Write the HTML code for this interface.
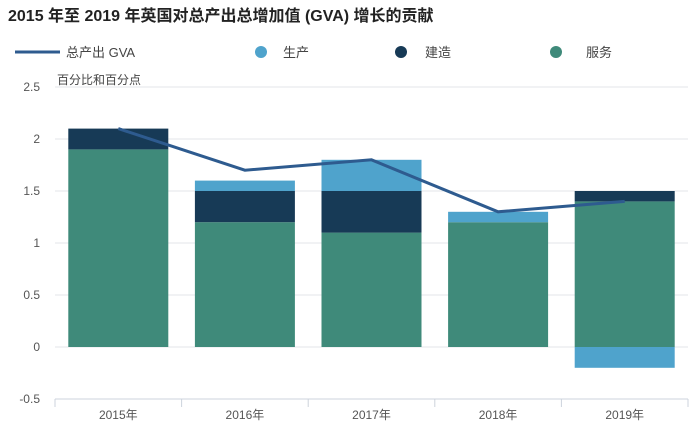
<!DOCTYPE html>
<html><head><meta charset="utf-8"><style>
body{margin:0;background:#fff;font-family:"Liberation Sans","Noto Sans CJK SC",sans-serif;}
svg text{font-family:"Liberation Sans","Noto Sans CJK SC",sans-serif;}
</style></head><body>
<svg id="c" width="700" height="433">
<text x="8" y="21" font-size="16" font-weight="bold" fill="#222">2015 年至 2019 年英国对总产出总增加值 (GVA) 增长的贡献</text>
<g>
<line x1="15" y1="52" x2="60" y2="52" stroke="#2e5b8f" stroke-width="3"/>
<text x="66" y="57" font-size="13" fill="#444">总产出 GVA</text>
<circle cx="261" cy="52" r="6" fill="#4fa3cc"/>
<text x="283" y="57" font-size="13" fill="#444">生产</text>
<circle cx="401" cy="52" r="6" fill="#173a56"/>
<text x="425" y="57" font-size="13" fill="#444">建造</text>
<circle cx="556" cy="52" r="6" fill="#3f8a7a"/>
<text x="586" y="57" font-size="13" fill="#444">服务</text>
</g>
<text x="57" y="84" font-size="12" fill="#444">百分比和百分点</text>
<g id="grid"></g><g id="bars"></g><g id="line"></g><g id="axes"></g>
</svg>
<script>
const categories=["2015年","2016年","2017年","2018年","2019年"];
const services=[1.9,1.2,1.1,1.2,1.4];
const construction=[0.2,0.3,0.4,0,0.1];
const production=[0,0.1,0.3,0.1,-0.2];
const gva=[2.1,1.7,1.8,1.3,1.4];
const yTicks=[-0.5,0,0.5,1,1.5,2,2.5];
const NS="http://www.w3.org/2000/svg";
const x0=55,x1=688,yTop=87,yBot=399,vMin=-0.5,vMax=2.5;
const y=v=>yBot-(v-vMin)/(vMax-vMin)*(yBot-yTop);
const bw=(x1-x0)/categories.length;
const xc=i=>x0+bw*(i+0.5);
function mk(t,a,p){const e=document.createElementNS(NS,t);for(const k in a)e.setAttribute(k,a[k]);document.getElementById(p).appendChild(e);return e;}
yTicks.forEach(v=>{
 if(v!==vMin){const g=mk('line',{x1:x0,x2:x1,y1:y(v),y2:y(v),stroke:'#e3e6ea','stroke-width':1},'grid');
 
 }
 const t=mk('text',{x:40,y:y(v)+4,'text-anchor':'end','font-size':12,fill:'#555'},'axes');t.textContent=String(v);
 
 
});
const ax=mk('line',{x1:x0,x2:x1,y1:yBot,y2:yBot,stroke:'#ccd3dc'},'axes');


for(let i=0;i<=categories.length;i++){const tk=mk('line',{x1:x0+bw*i,x2:x0+bw*i,y1:yBot,y2:yBot+8,stroke:'#ccd3dc'},'axes');
 
 }
categories.forEach((c,i)=>{
 const t=mk('text',{x:xc(i),y:419,'text-anchor':'middle','font-size':12,fill:'#555'},'axes');t.textContent=c;
 
 
 const w=100,l=xc(i)-w/2;
 let pos=0,neg=0;
 [[services[i],'#3f8a7a','services'],[construction[i],'#173a56','construction'],[production[i],'#4fa3cc','production']].forEach(([v,col,n])=>{
  if(!v)return;let a,b;
  if(v>0){a=pos;b=pos+v;pos=b;}else{a=neg+v;b=neg;neg=a;}
  const r=mk('rect',{x:l,y:y(b),width:w,height:y(a)-y(b),fill:col},'bars');
  
  
 });
});
const pl=mk('polyline',{points:gva.map((v,i)=>xc(i)+','+y(v)).join(' '),fill:'none',stroke:'#2e5b8f','stroke-width':3},'line');


</script>
</body></html>
